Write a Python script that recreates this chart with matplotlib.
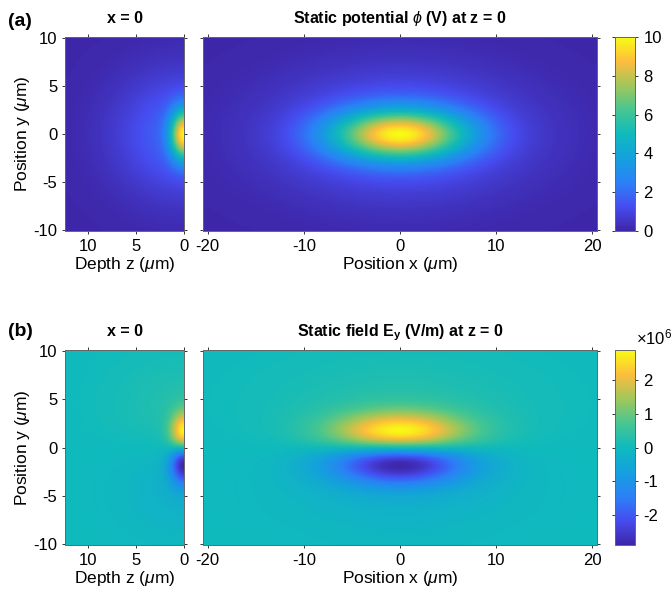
import matplotlib
matplotlib.use("Agg")
import matplotlib.pyplot as plt
import numpy as np
from matplotlib.colors import LinearSegmentedColormap
from matplotlib.ticker import FuncFormatter

plt.rcParams["font.family"] = ["Liberation Sans", "DejaVu Sans"]
plt.rcParams["mathtext.fontset"] = "custom"
plt.rcParams["mathtext.rm"] = "Liberation Sans"
plt.rcParams["mathtext.it"] = "Liberation Sans:italic"
plt.rcParams["mathtext.bf"] = "Liberation Sans:bold"
plt.rcParams["axes.unicode_minus"] = False

# potential: a bright elliptical core plus a faint halo
PHI_AMP = [8.0, 2.0]      # V
SIG_X = [4.95, 9.0]       # um
SIG_Y = [1.8, 4.5]        # um
SIG_Z = [1.0, 5.0]        # um

PHI_LIM = [0, 10]
PHI_TICKS = [0, 2, 4, 6, 8, 10]
EY_LIM = [-2.9e6, 2.9e6]
EY_TICKS = [-2e6, -1e6, 0, 1e6, 2e6]

X_LIM = [-20.5, 20.5]
Y_LIM = [-10.1, 10.1]
Z_LIM = [12.45, 0]
X_TICKS = [-20, -10, 0, 10, 20]
Y_TICKS = [-10, -5, 0, 5, 10]
Z_TICKS = [10, 5, 0]

# approximate MATLAB parula
PARULA = [
    (0.2422, 0.1504, 0.6603),
    (0.2750, 0.3000, 0.9400),
    (0.1700, 0.5100, 0.9700),
    (0.0800, 0.6300, 0.8700),
    (0.0600, 0.7300, 0.7400),
    (0.2800, 0.7750, 0.5700),
    (0.6300, 0.7800, 0.3600),
    (0.9900, 0.7400, 0.2400),
    (0.9769, 0.9839, 0.0805),
]
cmap = LinearSegmentedColormap.from_list("parula", PARULA, N=256)


def phi(x, y, z):
    out = 0.0
    for a, sx, sy, sz in zip(PHI_AMP, SIG_X, SIG_Y, SIG_Z):
        out = out + a * np.exp(-x**2 / (2 * sx**2) - y**2 / (2 * sy**2) - z**2 / (2 * sz**2))
    return out


def field_y(x, y, z):
    # Ey = -dphi/dy, um -> m
    out = 0.0
    for a, sx, sy, sz in zip(PHI_AMP, SIG_X, SIG_Y, SIG_Z):
        out = out + a * y / sy**2 * np.exp(-x**2 / (2 * sx**2) - y**2 / (2 * sy**2) - z**2 / (2 * sz**2))
    return out * 1e6


x = np.linspace(X_LIM[0], X_LIM[1], 400)
y = np.linspace(Y_LIM[0], Y_LIM[1], 240)
z = np.linspace(0, Z_LIM[0], 160)
XX, YX = np.meshgrid(x, y)
ZZ, YZ = np.meshgrid(z, y)

fig = plt.figure(figsize=(6.72, 5.99), dpi=100)
W, H = 672, 599


def add_ax(x0, y0, x1, y1):
    return fig.add_axes([x0 / W, 1 - y1 / H, (x1 - x0) / W, (y1 - y0) / H])


def style(ax):
    ax.tick_params(direction="out", length=2.5, width=0.7, labelsize=12,
                   top=True, right=True, color="#333333", pad=3)
    for s in ax.spines.values():
        s.set_color("#666666")
        s.set_linewidth(0.7)


rows = [
    dict(top=37, bot=231, field=phi, lim=PHI_LIM, ticks=PHI_TICKS, tag="(a)", tag_y=22,
         title=r"Static potential $\phi$ (V) at z = 0"),
    dict(top=350, bot=545, field=field_y, lim=EY_LIM, ticks=EY_TICKS, tag="(b)", tag_y=332,
         title=r"Static field E$_\mathbf{y}$ (V/m) at z = 0"),
]

for r in rows:
    axl = add_ax(65, r["top"], 184, r["bot"])
    axw = add_ax(203, r["top"], 597, r["bot"])
    cax = add_ax(615, r["top"], 635, r["bot"])

    axl.pcolormesh(ZZ, YZ, r["field"](0.0, YZ, ZZ), cmap=cmap,
                   vmin=r["lim"][0], vmax=r["lim"][1], shading="gouraud", rasterized=True)
    axl.set_xlim(Z_LIM)
    axl.set_ylim(Y_LIM)
    axl.set_xticks(Z_TICKS)
    axl.set_yticks(Y_TICKS)
    axl.set_xlabel(r"Depth z ($\mu$m)", fontsize=12.5, labelpad=1)
    axl.set_ylabel(r"Position y ($\mu$m)", fontsize=12.5, labelpad=1)
    axl.set_title("x = 0", fontsize=11.5, fontweight="bold", pad=10)
    style(axl)

    im = axw.pcolormesh(XX, YX, r["field"](XX, YX, 0.0), cmap=cmap,
                        vmin=r["lim"][0], vmax=r["lim"][1], shading="gouraud", rasterized=True)
    axw.set_xlim(X_LIM)
    axw.set_ylim(Y_LIM)
    axw.set_xticks(X_TICKS)
    axw.set_yticks(Y_TICKS)
    axw.set_yticklabels([])
    axw.set_xlabel(r"Position x ($\mu$m)", fontsize=12.5, labelpad=1)
    axw.set_title(r["title"], fontsize=11.5, fontweight="bold", pad=10)
    style(axw)

    cb = fig.colorbar(im, cax=cax, ticks=r["ticks"])
    cb.outline.set_edgecolor("#666666")
    cb.outline.set_linewidth(0.7)
    cax.tick_params(direction="out", length=2.5, width=0.7, labelsize=12,
                    left=True, right=True, color="#333333")

    fig.text(8 / W, 1 - r["tag_y"] / H, r["tag"], fontsize=14,
             fontweight="bold", va="center", ha="left")

# colorbar scale factor for the field
ey_cax = fig.axes[-1]
ey_cax.yaxis.set_major_formatter(FuncFormatter(lambda v, p: f"{v / 1e6:g}"))
fig.text(636 / W, 1 - 337 / H, r"$\times10^6$", fontsize=12, va="center", ha="left")

fig.savefig("out.png", dpi=100)
